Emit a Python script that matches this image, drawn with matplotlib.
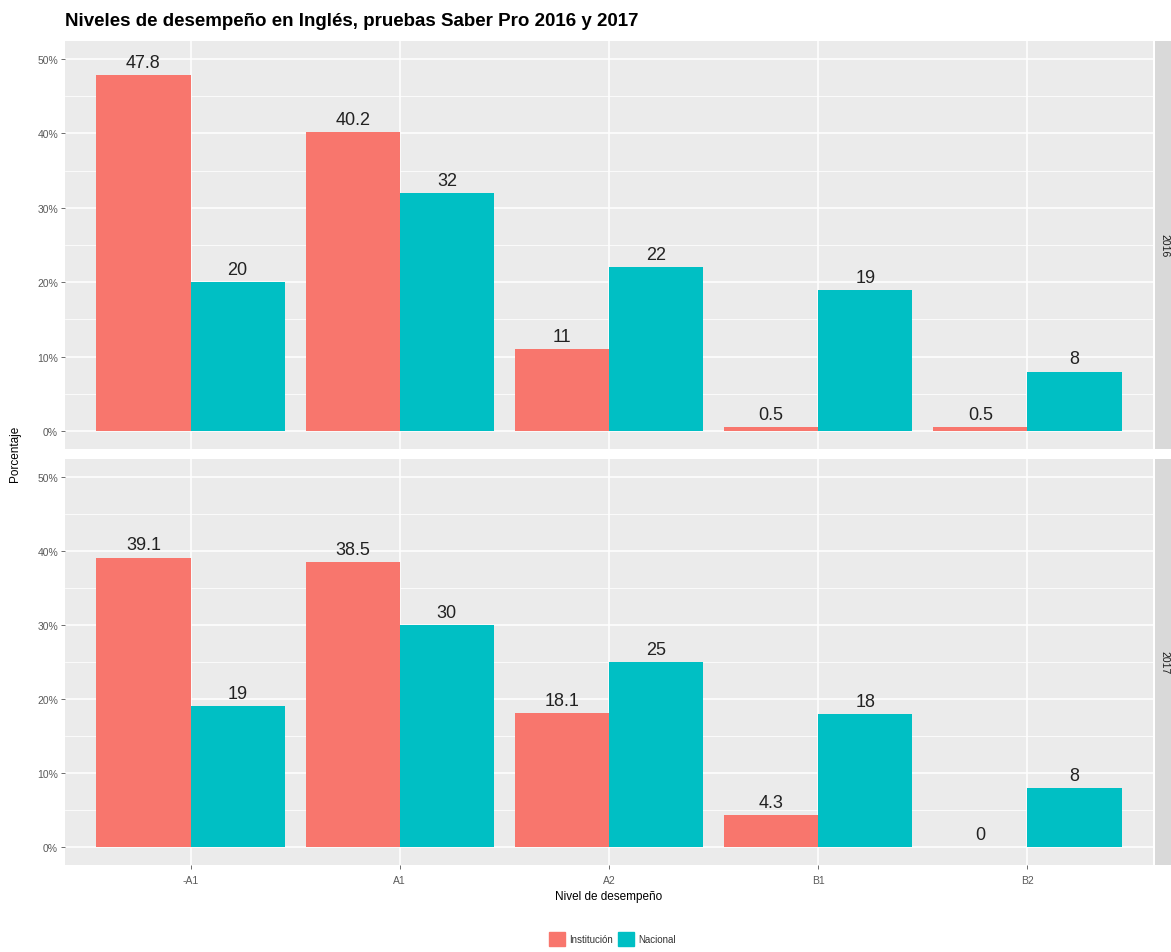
import matplotlib
matplotlib.use("Agg")
import matplotlib.pyplot as plt
import numpy as np
from matplotlib.patches import Rectangle

plt.rcParams['font.family'] = ['Liberation Sans', 'DejaVu Sans']

categories = ["-A1", "A1", "A2", "B1", "B2"]
years = ["2016", "2017"]
institucion = {"2016": [47.8, 40.2, 11, 0.5, 0.5],
               "2017": [39.1, 38.5, 18.1, 4.3, 0]}
nacional = {"2016": [20, 32, 22, 19, 8],
            "2017": [19, 30, 25, 18, 8]}
labels_inst = {"2016": ["47.8", "40.2", "11", "0.5", "0.5"],
               "2017": ["39.1", "38.5", "18.1", "4.3", "0"]}
labels_nac = {"2016": ["20", "32", "22", "19", "8"],
              "2017": ["19", "30", "25", "18", "8"]}
yticks = [0, 10, 20, 30, 40, 50]
ytick_labels = ["0%", "10%", "20%", "30%", "40%", "50%"]
series_names = ["Institución", "Nacional"]

RED = "#F8766D"
TEAL = "#00BFC4"
W, H = 1171, 953
fig = plt.figure(figsize=(W / 100, H / 100), dpi=100)

def fx(px):
    return px / W

def fy(py):
    return 1 - py / H

left, right = 65, 1153
panels = [(42, 450), (460, 866)]
x = np.arange(len(categories))
bw = 0.45

for (top, bot), yr in zip(panels, years):
    ax = fig.add_axes([fx(left), fy(bot), fx(right - left), (bot - top) / H])
    ax.set_facecolor("#EBEBEB")
    ax.set_xlim(-0.6, len(categories) - 0.4)
    ax.set_ylim(-2.4, 52.4)
    for s in ax.spines.values():
        s.set_visible(False)
    ax.set_yticks(yticks)
    ax.set_yticks([5, 15, 25, 35, 45], minor=True)
    ax.grid(True, which="major", color="white", linewidth=1.1)
    ax.grid(True, which="minor", axis="y", color="white", linewidth=0.55)
    ax.set_axisbelow(True)
    ax.set_xticks(x)
    ax.tick_params(axis="both", which="major", length=3, width=0.6, color="#555555",
                   labelcolor="#5A5A5A", labelsize=7.5, pad=2)
    ax.tick_params(axis="both", which="minor", length=0)
    ax.set_yticklabels(ytick_labels)
    if yr == years[0]:
        ax.tick_params(axis="x", length=0, labelbottom=False)
    else:
        ax.set_xticklabels(categories)
        ax.tick_params(axis="x", pad=4)
    ax.bar(x - bw / 2, institucion[yr], width=bw, color=RED)
    ax.bar(x + bw / 2, nacional[yr], width=bw, color=TEAL)
    for i in range(len(categories)):
        ax.annotate(labels_inst[yr][i], (x[i] - bw / 2, institucion[yr][i]),
                    xytext=(0, 3), textcoords="offset points",
                    ha="center", va="bottom", fontsize=13, color="#222222")
        ax.annotate(labels_nac[yr][i], (x[i] + bw / 2, nacional[yr][i]),
                    xytext=(0, 3), textcoords="offset points",
                    ha="center", va="bottom", fontsize=13, color="#222222")
    # strip
    sax = fig.add_axes([fx(1155), fy(bot), fx(22), (bot - top) / H])
    sax.set_facecolor("#D9D9D9")
    sax.set_xticks([]); sax.set_yticks([])
    for s in sax.spines.values():
        s.set_visible(False)
    sax.text(0.45, 0.5, yr, rotation=-90, ha="center", va="center",
             fontsize=7.5, color="#1A1A1A", transform=sax.transAxes)

fig.text(fx(65), fy(21), "Niveles de desempeño en Inglés, pruebas Saber Pro 2016 y 2017",
         fontsize=13.5, fontweight="bold", ha="left", va="center", color="black")
fig.text(fx(15), fy(454), "Porcentaje", rotation=90, ha="center", va="center",
         fontsize=8.5, color="black")
fig.text(fx(609), fy(897), "Nivel de desempeño", ha="center", va="center",
         fontsize=8.5, color="black")

# legend
handles = [Rectangle((0, 0), 1, 1, color=RED), Rectangle((0, 0), 1, 1, color=TEAL)]
fig.legend(handles, series_names, loc="center", bbox_to_anchor=(fx(612), fy(940)),
           ncol=2, frameon=False, fontsize=7, handlelength=1.7, handleheight=1.7,
           handletextpad=0.4, columnspacing=0.5, labelcolor="#333333")

fig.savefig("out.png", dpi=100)
